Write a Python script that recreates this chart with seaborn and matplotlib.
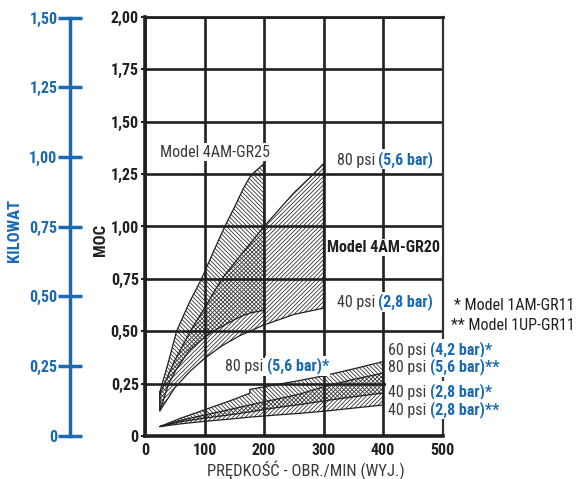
import numpy as np
import seaborn as sns
import matplotlib.pyplot as plt
from matplotlib import font_manager

# ---------------------------------------------------------------- data
# Model 4AM-GR25 envelope (80 psi top, 40 psi bottom)
gr25_x = [25, 40, 53, 75, 95, 115, 134, 150, 165, 178, 200]
gr25_hi = [0.21, 0.36, 0.50, 0.64, 0.75, 0.88, 1.00, 1.09, 1.18, 1.245, 1.30]
gr25_lo = [0.12, 0.25, 0.32, 0.41, 0.46, 0.50, 0.53, 0.555, 0.575, 0.588, 0.60]

# Model 4AM-GR20 envelope
gr20_x = [25, 50, 76, 100, 129, 160, 200, 250, 283, 300]
gr20_hi = [0.20, 0.36, 0.50, 0.61, 0.75, 0.86, 1.00, 1.16, 1.25, 1.30]
gr20_lo = [0.12, 0.23, 0.31, 0.37, 0.43, 0.48, 0.53, 0.58, 0.60, 0.61]

# Model 1AM-GR11 (*) and 1UP-GR11 (**)
gr11_x = [25, 60, 100, 140, 176, 176, 220, 260, 300, 350, 400]
am_hi = [0.045, 0.085, 0.125, 0.165, 0.204, 0.222, 0.245, 0.265, 0.287, 0.32, 0.355]
up_hi = [0.045, 0.075, 0.10, 0.125, 0.148, 0.148, 0.175, 0.20, 0.235, 0.27, 0.30]
am_lo = [0.045, 0.068, 0.085, 0.10, 0.115, 0.115, 0.135, 0.15, 0.167, 0.187, 0.205]
up_lo = [0.045, 0.058, 0.07, 0.08, 0.09, 0.09, 0.10, 0.108, 0.118, 0.133, 0.148]

hp_ticks = [0, 0.25, 0.50, 0.75, 1.00, 1.25, 1.50, 1.75, 2.00]
kw_ticks = [0, 0.25, 0.50, 0.75, 1.00, 1.25, 1.50]
rpm_ticks = [0, 100, 200, 300, 400, 500]

# ---------------------------------------------------------------- style
sns.set_style("white")

# pick a condensed face if one is installed, else shrink a regular one
fonts = font_manager.fontManager.ttflist
names = {f.name for f in fonts}
FAMILY, STRETCH, FS = "Liberation Sans", "normal", 10.0
for cand in ["Liberation Sans Narrow", "Roboto Condensed", "Open Sans Condensed",
             "Noto Sans Condensed", "DejaVu Sans Condensed"]:
    if cand in names:
        FAMILY, FS = cand, 11.5
        break
else:
    for f in fonts:
        if f.name in ("Roboto", "Noto Sans", "Open Sans", "DejaVu Sans") and \
                str(f.stretch) in ("condensed", "semi-condensed", "75", "87.5"):
            FAMILY, STRETCH, FS = f.name, "condensed", 11.5
            break

plt.rcParams["font.family"] = [FAMILY, "DejaVu Sans"]
plt.rcParams["font.stretch"] = STRETCH
plt.rcParams["hatch.linewidth"] = 0.55

INK = "#231f20"
GRAY = "#3a3a3a"
BLUE = "#1a6ab3"
BACK = "\\" * 8
FWD = "/" * 8


def comma(v):
    return "0" if v == 0 else f"{v:.2f}".replace(".", ",")


def region(ax, x, lo, hi, hatch):
    ax.fill_between(x, lo, hi, facecolor="none", edgecolor=INK,
                    hatch=hatch, linewidth=0, zorder=1)
    xs = list(x) + list(x)[::-1] + [x[0]]
    ys = list(hi) + list(lo)[::-1] + [hi[0]]
    sns.lineplot(x=xs, y=ys, sort=False, estimator=None, color=INK,
                 linewidth=0.9, ax=ax, zorder=2)


def two_tone(ax, x, y, black, blue, size=FS):
    box = dict(facecolor="white", edgecolor="none", pad=1.0)
    t = ax.text(x, y, black, color=GRAY, fontsize=size, ha="left",
                va="center", zorder=6, bbox=box, clip_on=False)
    ax.annotate(blue, xy=(1, 0), xycoords=t, ha="left", va="bottom",
                color=BLUE, weight="bold", fontsize=size, zorder=6,
                bbox=box, annotation_clip=False)


fig = plt.figure(figsize=(5.76, 4.79), dpi=100)
ax = fig.add_axes([145 / 576, 43 / 479, 297.5 / 576, 419 / 479])

region(ax, gr25_x, gr25_lo, gr25_hi, BACK)
region(ax, gr20_x, gr20_lo, gr20_hi, FWD)
region(ax, gr11_x, am_lo, am_hi, BACK)
region(ax, gr11_x, up_lo, up_hi, FWD)

ax.set_xlim(0, 500)
ax.set_ylim(0, 2)
ax.set_xticks(rpm_ticks)
ax.set_xticklabels([str(v) for v in rpm_ticks])
ax.set_yticks(hp_ticks)
ax.set_yticklabels([comma(v) for v in hp_ticks])
ax.set_axisbelow(False)
ax.grid(True, color=INK, linewidth=1.9)
ax.tick_params(axis="y", left=True, length=3, width=1.5, color=INK, pad=1.5,
               labelsize=FS, labelcolor=INK)
ax.tick_params(axis="x", bottom=False, length=0, pad=5,
               labelsize=FS, labelcolor=INK)
for lab in ax.get_xticklabels() + ax.get_yticklabels():
    lab.set_fontweight("bold")
for side, lw in [("left", 2.6), ("bottom", 2.6), ("top", 2.0), ("right", 1.6)]:
    ax.spines[side].set_visible(True)
    ax.spines[side].set_linewidth(lw)
    ax.spines[side].set_color(INK if side != "right" else "#333333")
    ax.spines[side].set_zorder(4)

ax.set_xlabel("PRĘDKOŚĆ - OBR./MIN (WYJ.)", fontsize=FS + 0.5, color=GRAY)
ax.xaxis.set_label_coords(0.54, -0.058)
ax.set_ylabel("")

# annotations
box = dict(facecolor="white", edgecolor="none", pad=1.0)
ax.text(25, 1.355, "Model 4AM-GR25", color=GRAY, fontsize=FS, va="center",
        zorder=6, bbox=box)
ax.text(306, 0.90, "Model 4AM-GR20", color=INK, fontsize=FS, va="center",
        weight="bold", zorder=6, bbox=box, clip_on=False)
two_tone(ax, 322, 1.317, "80 psi ", "(5,6 bar)")
two_tone(ax, 322, 0.635, "40 psi ", "(2,8 bar)")
two_tone(ax, 134, 0.33, "80 psi ", "(5,6 bar)*")
two_tone(ax, 408, 0.41, "60 psi ", "(4,2 bar)*")
two_tone(ax, 408, 0.325, "80 psi ", "(5,6 bar)**")
two_tone(ax, 408, 0.21, "40 psi ", "(2,8 bar)*")
two_tone(ax, 408, 0.124, "40 psi ", "(2,8 bar)**")

fig.text(0.998, 1 - 306 / 479, "* Model 1AM-GR11", ha="right", va="center",
         color=INK, fontsize=FS)
fig.text(0.998, 1 - 326 / 479, "** Model 1UP-GR11", ha="right", va="center",
         color=INK, fontsize=FS)

fig.text(100 / 576, 1 - 240 / 479, "MOC", rotation=90, ha="center", va="center",
         color=INK, fontsize=FS + 0.5, weight="bold")

# kilowatt scale on the left
kax = fig.add_axes([70 / 576, 43.5 / 479, 0.001, 418 / 479])
kax.set_ylim(0, 1.5)
kax.set_yticks(kw_ticks)
kax.set_yticklabels([comma(v) for v in kw_ticks])
kax.set_xticks([])
kax.patch.set_visible(False)
for side in ["top", "right", "bottom"]:
    kax.spines[side].set_visible(False)
kax.spines["left"].set_visible(True)
kax.spines["left"].set_color(BLUE)
kax.spines["left"].set_linewidth(2.5)
kax.tick_params(axis="y", left=True, direction="inout", length=17, width=2.5,
                color=BLUE, labelcolor=BLUE, labelsize=FS, pad=0.5)
for lab in kax.get_yticklabels():
    lab.set_fontweight("bold")

fig.text(15 / 576, 1 - 231 / 479, "KILOWAT", rotation=90, ha="center",
         va="center", color=BLUE, fontsize=FS + 0.5, weight="bold")

fig.savefig("out.png", dpi=100)
